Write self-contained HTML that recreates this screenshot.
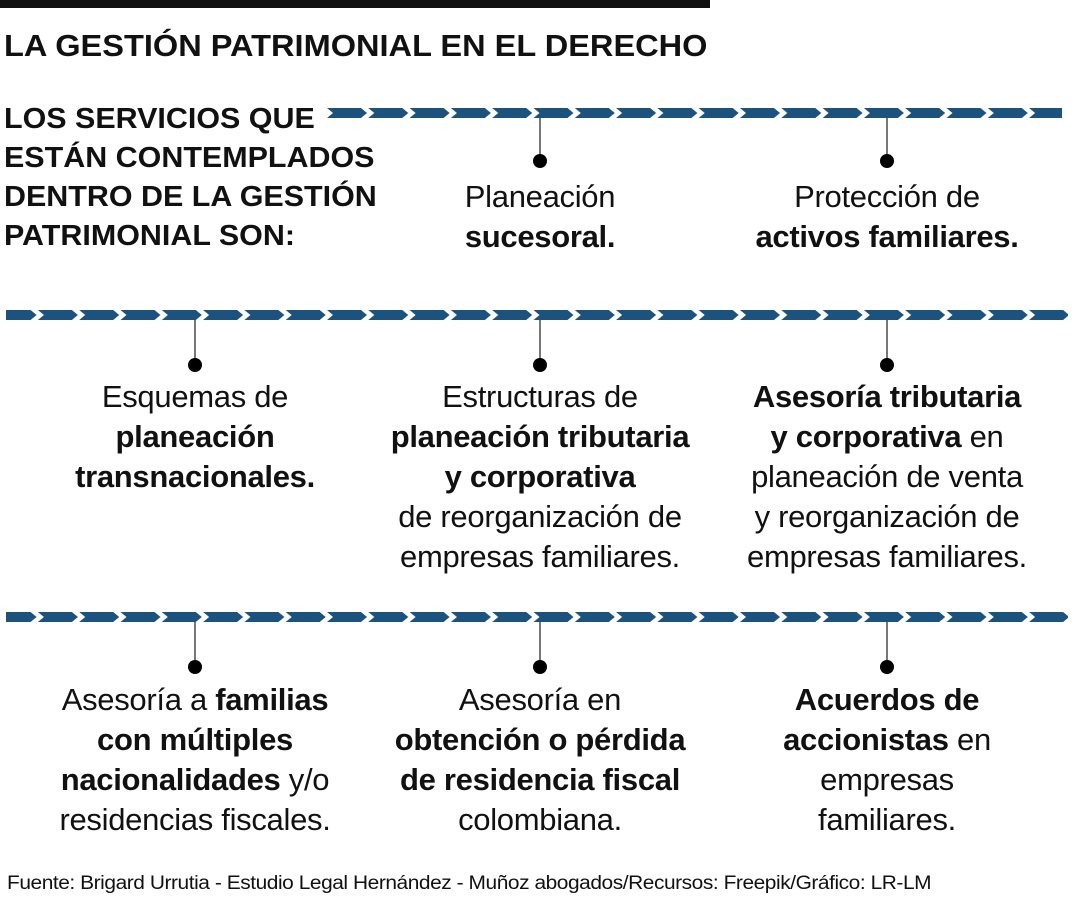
<!DOCTYPE html>
<html><head><meta charset="utf-8"><style>
body{margin:0;width:1080px;height:900px;background:#fff;position:relative;overflow:hidden;font-family:"Liberation Sans",sans-serif;color:#111}
.t{position:absolute;text-align:center;font-size:31px;line-height:40px;width:400px;margin-left:-200px;letter-spacing:-0.3px}
b{font-weight:bold}
.h{position:absolute;font-weight:bold;white-space:nowrap;transform-origin:0 0}
</style></head><body>
<div style="position:absolute;left:0;top:0;width:710px;height:8px;background:#111"></div>
<div class="h" style="left:4px;top:28px;font-size:31px;transform:scaleX(1.05)">LA GESTIÓN PATRIMONIAL EN EL DERECHO</div>
<div class="h" style="left:4px;top:100px;font-size:29px;line-height:39px;transform:scaleX(1.05)">LOS SERVICIOS QUE<br>ESTÁN CONTEMPLADOS<br>DENTRO DE LA GESTIÓN<br>PATRIMONIAL SON:</div>
<svg width="1080" height="900" style="position:absolute;left:0;top:0">
<defs><pattern id="c" x="327" y="0" width="41.3" height="900" patternUnits="userSpaceOnUse">
<polygon points="0,108 34,108 40,113 34,118 0,118 6,113" fill="#1b527e"/>
<polygon points="0,310 34,310 40,315 34,320 0,320 6,315" fill="#1b527e"/>
<polygon points="0,612 34,612 40,617 34,622 0,622 6,617" fill="#1b527e"/>
</pattern></defs>
<rect x="327" y="105" width="735" height="16" fill="url(#c)"/>
<rect x="6" y="307" width="1062" height="16" fill="url(#c)"/>
<rect x="6" y="609" width="1062" height="16" fill="url(#c)"/>
<g stroke="#777" stroke-width="2">
<line x1="540" y1="118" x2="540" y2="160"/><line x1="887" y1="118" x2="887" y2="160"/>
<line x1="195" y1="320" x2="195" y2="365"/><line x1="540" y1="320" x2="540" y2="365"/><line x1="887" y1="320" x2="887" y2="365"/>
<line x1="195" y1="622" x2="195" y2="667"/><line x1="540" y1="622" x2="540" y2="667"/><line x1="887" y1="622" x2="887" y2="667"/>
</g>
<g fill="#000">
<circle cx="540" cy="161" r="7"/><circle cx="887" cy="161" r="7"/>
<circle cx="195" cy="365" r="7"/><circle cx="540" cy="365" r="7"/><circle cx="887" cy="365" r="7"/>
<circle cx="195" cy="667" r="7"/><circle cx="540" cy="667" r="7"/><circle cx="887" cy="667" r="7"/>
</g>
</svg>
<div class="t" style="left:540px;top:177px">Planeación<br><b>sucesoral.</b></div>
<div class="t" style="left:887px;top:177px">Protección de<br><b>activos familiares.</b></div>
<div class="t" style="left:195px;top:377px">Esquemas de<br><b>planeación<br>transnacionales.</b></div>
<div class="t" style="left:540px;top:377px">Estructuras de<br><b>planeación tributaria<br>y corporativa</b><br>de reorganización de<br>empresas familiares.</div>
<div class="t" style="left:887px;top:377px"><b>Asesoría tributaria<br>y corporativa</b> en<br>planeación de venta<br>y reorganización de<br>empresas familiares.</div>
<div class="t" style="left:195px;top:680px">Asesoría a <b>familias<br>con múltiples<br>nacionalidades</b> y/o<br>residencias fiscales.</div>
<div class="t" style="left:540px;top:680px">Asesoría en<br><b>obtención o pérdida<br>de residencia fiscal</b><br>colombiana.</div>
<div class="t" style="left:887px;top:680px"><b>Acuerdos de<br>accionistas</b> en<br>empresas<br>familiares.</div>
<div style="position:absolute;left:7px;top:873px;font-size:19px;white-space:nowrap;letter-spacing:-0.4px;transform:scaleX(1.1);transform-origin:0 0">Fuente: Brigard Urrutia - Estudio Legal Hernández - Muñoz abogados/Recursos: Freepik/Gráfico: LR-LM</div>
</body></html>
